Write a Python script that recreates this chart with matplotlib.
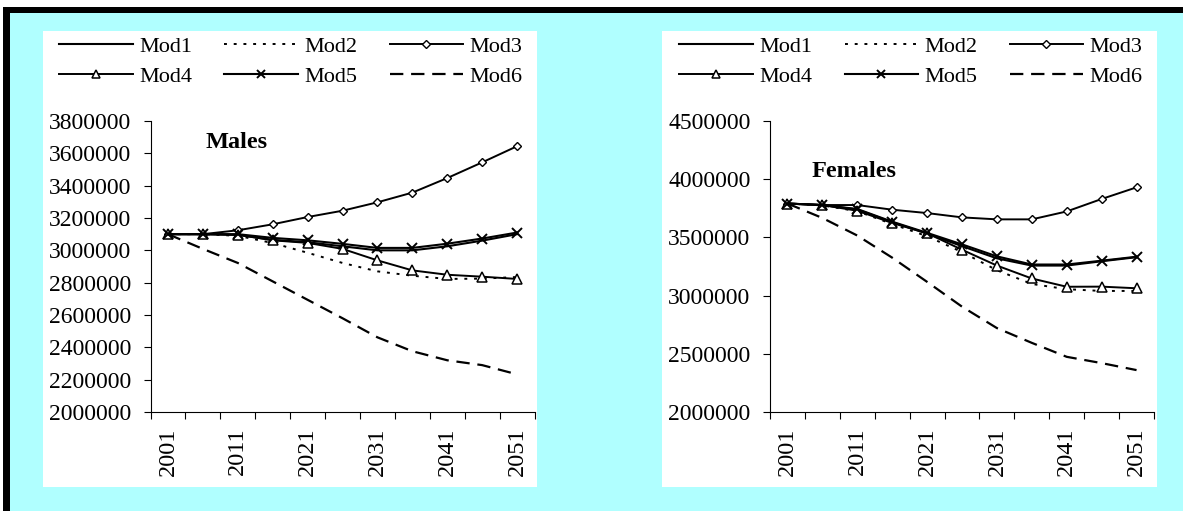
import matplotlib.pyplot as plt
from matplotlib.patches import Rectangle
import numpy as np

plt.rcParams['font.family'] = ['Liberation Serif', 'DejaVu Serif']

years = [2001, 2006, 2011, 2016, 2021, 2026, 2031, 2036, 2041, 2046, 2051]
labels = ['Mod1', 'Mod2', 'Mod3', 'Mod4', 'Mod5', 'Mod6']

# males
mod1_m = [3100000, 3100000, 3095000, 3065000, 3050000, 3025000, 3000000, 3000000, 3025000, 3060000, 3100000]
mod2_m = [3100000, 3100000, 3090000, 3045000, 2985000, 2922000, 2870000, 2843000, 2823000, 2825000, 2835000]
mod3_m = [3100000, 3100000, 3124000, 3161000, 3206000, 3245000, 3297000, 3357000, 3447000, 3544000, 3644000]
mod4_m = [3100000, 3100000, 3097000, 3062000, 3046000, 3009000, 2938000, 2876000, 2849000, 2837000, 2823000]
mod5_m = [3100000, 3100000, 3100000, 3077000, 3062000, 3040000, 3015000, 3015000, 3041000, 3073000, 3110000]
mod6_m = [3100000, 3009000, 2922000, 2808000, 2694000, 2580000, 2462000, 2376000, 2320000, 2290000, 2233000]

# females
mod1_f = [3791000, 3778000, 3740000, 3630000, 3533000, 3425000, 3320000, 3258000, 3258000, 3295000, 3330000]
mod2_f = [3791000, 3775000, 3725000, 3615000, 3510000, 3374000, 3218000, 3100000, 3055000, 3040000, 3040000]
mod3_f = [3791000, 3778000, 3778000, 3738000, 3709000, 3672000, 3655000, 3655000, 3723000, 3830000, 3930000]
mod4_f = [3791000, 3778000, 3729000, 3624000, 3536000, 3394000, 3258000, 3147000, 3076000, 3077000, 3063000]
mod5_f = [3791000, 3778000, 3744000, 3635000, 3539000, 3440000, 3337000, 3267000, 3267000, 3300000, 3334000]
mod6_f = [3791000, 3667000, 3516000, 3326000, 3118000, 2905000, 2721000, 2594000, 2474000, 2420000, 2360000]

yticks_m = [2000000, 2200000, 2400000, 2600000, 2800000, 3000000, 3200000, 3400000, 3600000, 3800000]
yticks_f = [2000000, 2500000, 3000000, 3500000, 4000000, 4500000]

W, H = 1183, 511
fig = plt.figure(figsize=(W / 100, H / 100), dpi=100)
fig.patch.set_facecolor('white')


def px_rect(x0, y0, x1, y1, color):
    fig.add_artist(Rectangle((x0 / W, 1 - y1 / H), (x1 - x0) / W, (y1 - y0) / H,
                             transform=fig.transFigure, facecolor=color,
                             edgecolor='none', zorder=-10))


px_rect(3, 7, W, H, 'black')
px_rect(10, 13, W, H, '#b0ffff')
px_rect(43, 31, 537, 487, 'white')
px_rect(662, 31, 1157, 487, 'white')

styles = [
    dict(color='black', lw=1.5, ls='-'),
    dict(color='black', lw=1.4, ls=(0, (1.5, 3.5))),
    dict(color='black', lw=1.4, ls='-', marker='D', ms=4.5, mfc='white', mew=1.0),
    dict(color='black', lw=1.4, ls='-', marker='^', ms=6.5, mfc='white', mew=1.1),
    dict(color='black', lw=1.5, ls='-', marker='x', ms=7, mew=1.4),
    dict(color='black', lw=1.6, ls=(0, (6, 3.5))),
]


def panel(left, data, yticks, title, title_pos, legend_x):
    ax = fig.add_axes([left / W, 99 / H, 384 / W, 291 / H])
    ax.set_facecolor('white')
    x = np.arange(len(years))
    handles = []
    for series, st in zip(data, styles):
        h, = ax.plot(x, series, **st)
        handles.append(h)
    ax.set_xlim(-0.5, len(years) - 0.5)
    ax.set_ylim(yticks[0], yticks[-1])
    ax.set_xticks(np.arange(-0.5, len(years), 1))
    ax.set_xticklabels([])
    ax.set_xticks(x[::2], minor=True)
    ax.set_xticklabels([str(y) for y in years[::2]], minor=True, rotation=90, fontsize=17.5)
    ax.tick_params(axis='x', which='major', direction='out', length=5, width=0.8)
    ax.tick_params(axis='x', which='minor', length=0, pad=11)
    ax.set_yticks(yticks)
    ax.set_yticklabels([str(v) for v in yticks], fontsize=17)
    ax.tick_params(axis='y', direction='out', length=5, width=0.8, pad=9)
    for s in ['top', 'right']:
        ax.spines[s].set_visible(False)
    for s in ['left', 'bottom']:
        ax.spines[s].set_linewidth(0.8)
    fig.text(title_pos[0] / W, 1 - title_pos[1] / H, title, fontsize=17.5,
             fontweight='bold', ha='center', va='center')
    order = [0, 3, 1, 4, 2, 5]
    ax.legend([handles[i] for i in order], [labels[i] for i in order], ncol=3,
              loc='center', bbox_to_anchor=(legend_x / W, 1 - 61.5 / H),
              bbox_transform=fig.transFigure, frameon=False, fontsize=16,
              handlelength=3.3, handletextpad=0.3, columnspacing=1.45,
              labelspacing=0.45, numpoints=1, markerscale=0.85)
    return ax


panel(150.5, [mod1_m, mod2_m, mod3_m, mod4_m, mod5_m, mod6_m], yticks_m,
      'Males', (237, 142), 291)
panel(770, [mod1_f, mod2_f, mod3_f, mod4_f, mod5_f, mod6_f], yticks_f,
      'Females', (854, 171), 911)

fig.savefig('out.png', dpi=100)
